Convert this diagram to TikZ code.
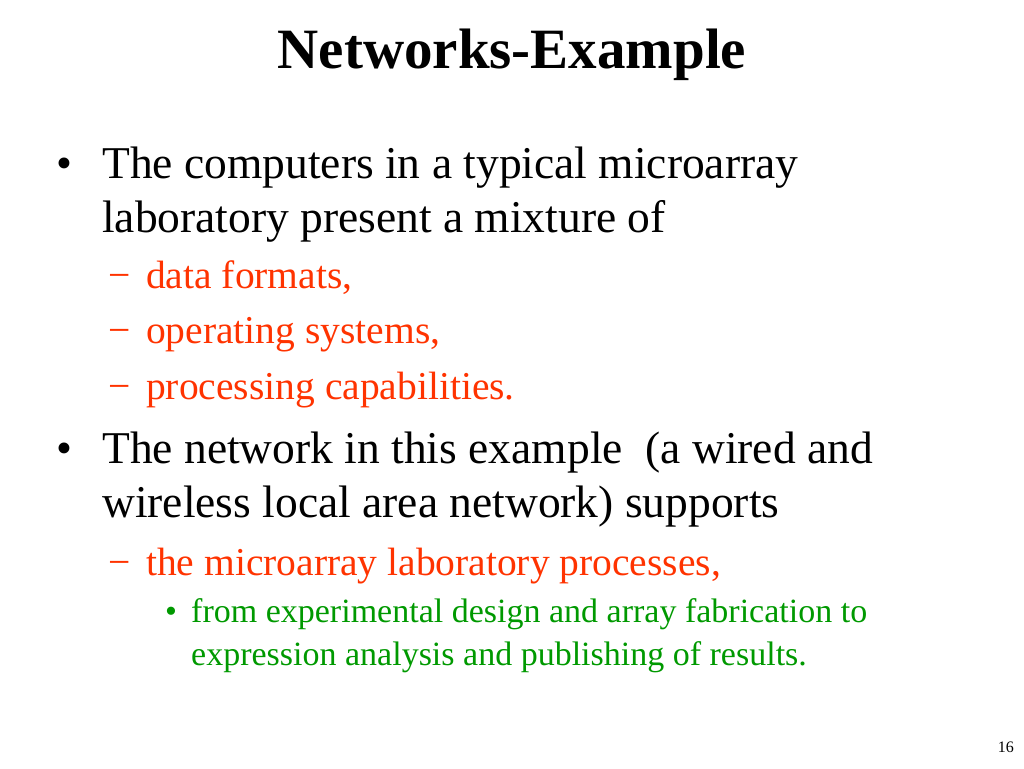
\documentclass[tikz,border=0pt]{standalone}
\usepackage{fontspec}
\setmainfont{Liberation Serif}
\definecolor{subred}{RGB}{255,51,0}
\definecolor{subgreen}{RGB}{0,153,0}
\begin{document}
\begin{tikzpicture}[x=1pt, y=-1pt,
  txt/.style = {anchor=base west, inner sep=0pt},
  big/.style = {txt, font=\fontsize{45.5}{50}\selectfont},
  mid/.style = {txt, font=\fontsize{39.5}{44}\selectfont, text=subred},
  small/.style = {txt, font=\fontsize{34}{38}\selectfont, text=subgreen}]
\useasboundingbox (0,0) rectangle (1024,768);
\node[txt, anchor=base, font=\bfseries\fontsize{57}{62}\selectfont] (title) at (512,68) {Networks-Example};
% first bullet
\node[big] (b1) at (56,178) {\textbullet};
\node[big] (l1) at (102,178) {The computers in a typical microarray};
\node[big] (l2) at (102,232) {laboratory present a mixture of};
\node[mid] (d1) at (108,288) {−};
\node[mid] (s1) at (146,288) {data formats,};
\node[mid] (d2) at (108,343) {−};
\node[mid] (s2) at (146,343) {operating systems,};
\node[mid] (d3) at (108,399) {−};
\node[mid] (s3) at (146,399) {processing capabilities.};
% second bullet
\node[big] (b2) at (56,463) {\textbullet};
\node[big] (l3) at (102,463) {The network in this example \ (a wired and};
\node[big] (l4) at (102,517) {wireless local area network) supports};
\node[mid] (d4) at (108,575) {−};
\node[mid] (s4) at (146,575) {the microarray laboratory processes,};
\node[small] (b3) at (165,622) {\textbullet};
\node[small] (g1) at (191,622) {from experimental design and array fabrication to};
\node[small] (g2) at (191,665) {expression analysis and publishing of results.};
\node[txt, anchor=base east, font=\fontsize{16}{18}\selectfont] (page) at (1014,752) {16};
\end{tikzpicture}
\end{document}
